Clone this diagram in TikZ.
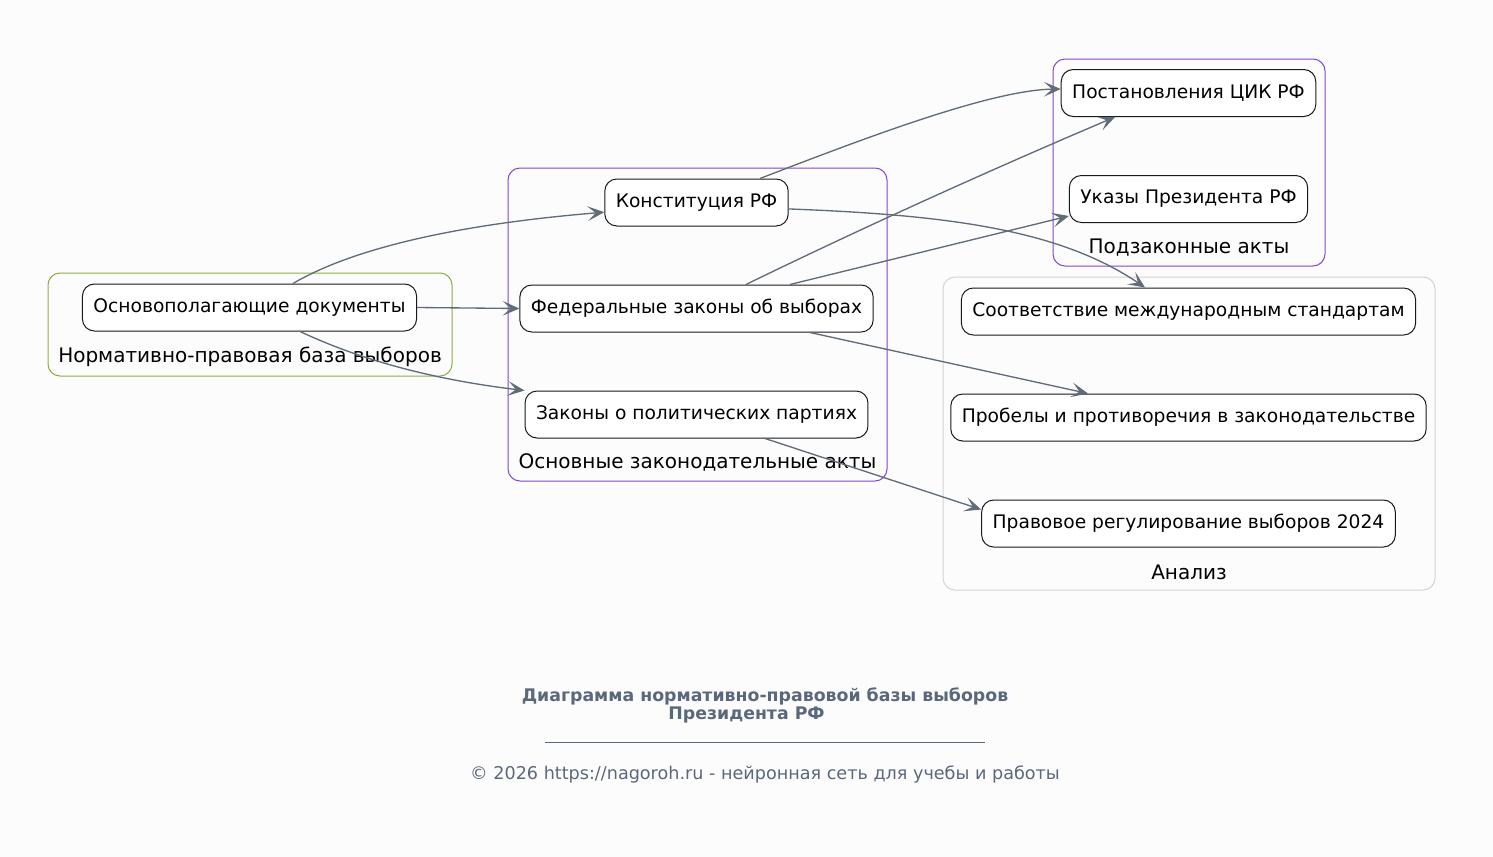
\documentclass[tikz,border=0pt]{standalone}
\usepackage{fontspec}
\setmainfont{DejaVu Sans}
\usetikzlibrary{arrows.meta,positioning}
\definecolor{bgpage}{RGB}{253,252,252}
\definecolor{linkgray}{RGB}{96,108,122}
\definecolor{grpgreen}{RGB}{138,174,70}
\definecolor{grppurple}{RGB}{130,70,210}
\definecolor{grpgray}{RGB}{212,212,212}
\definecolor{footgray}{RGB}{90,104,124}

\begin{document}
\begin{tikzpicture}[x=0.75pt,y=-0.75pt,node distance=43.5pt,
  box/.style={draw=black!90, line width=0.75pt, rounded corners=9pt, fill=white, font=\fontsize{14}{16}\selectfont, inner xsep=8.25pt, minimum height=35.25pt},
  grp/.style={line width=0.75pt, rounded corners=9pt},
  lbl/.style={font=\fontsize{15}{17}\selectfont},
  link/.style={draw=linkgray, line width=1pt, -{Stealth[length=12.5pt,width=11pt,inset=6pt]}}]
  \fill[bgpage] (0,0) rectangle (1493,857);
  \useasboundingbox (0,0) rectangle (1493,857);

  % clusters
  \draw[grp, draw=grpgreen] (48,273) rectangle (452,376);
  \draw[grp, draw=grppurple] (508,168) rectangle (887,481);
  \draw[grp, draw=grppurple] (1053,59) rectangle (1325,266);
  \draw[grp, draw=grpgray] (943,277) rectangle (1435,590);
  \node[lbl] (lblbase) at (250,357) {Нормативно-правовая база выборов};
  \node[lbl] (lblmain) at (697.5,462) {Основные законодательные акты};
  \node[lbl] (lblsub) at (1189,248) {Подзаконные акты};
  \node[lbl] (lblanal) at (1189,572) {Анализ};

  % nodes
  \node[box] (basis) at (249.5,307.5) {Основополагающие документы};
  \node[box] (konst) at (696.5,202.5) {Конституция РФ};
  \node[box, below=of konst] (fed) {Федеральные законы об выборах};
  \node[box, below=of fed] (parties) {Законы о политических партиях};
  \node[box] (ptk) at (1188.5,93) {Постановления ЦИК РФ};
  \node[box, below=of ptk] (ukaz) {Указы Президента РФ};
  \node[box] (intl) at (1188.5,311.5) {Соответствие международным стандартам};
  \node[box, below=of intl] (gaps) {Пробелы и противоречия в законодательстве};
  \node[box, below=of gaps] (reg) {Правовое регулирование выборов 2024};

  % links
  \draw[link] ([xshift=32.6pt]basis.north) .. controls (350,250) and (450,225) .. (konst.186);
  \draw[link] (basis.east) -- (fed.west);
  \draw[link] ([xshift=37.9pt]basis.south) .. controls (350,355) and (420,378) .. (parties.north west);
  \draw[link] ([xshift=47.6pt]konst.north) .. controls (860,140) and (990,90) .. ([yshift=3pt]ptk.west);
  \draw[link] (konst.-4) .. controls (950,215) and (1060,230) .. ([xshift=-32.6pt]intl.north);
  \draw[link] ([xshift=37.1pt]fed.north) .. controls (866,226) and (995,168) .. ([xshift=-55.1pt]ptk.south);
  \draw[link] ([xshift=70.1pt]fed.north) -- ([yshift=-12.75pt]ukaz.west);
  \draw[link] ([xshift=85.1pt]fed.south) -- ([xshift=-75.4pt]gaps.north);
  \draw[link] ([xshift=51.4pt]parties.south) -- ([yshift=10.5pt]reg.west);

  % footer
  \node[font=\bfseries\fontsize{13}{13.5}\selectfont, text=footgray, align=center] (title) at (765,705) {Диаграмма нормативно-правовой базы выборов\\Президента РФ\hspace*{27.75pt}};
  \draw[footgray, line width=0.6pt] (545,742) -- (985,742);
  \node[font=\fontsize{13.2}{15}\selectfont, text=footgray] (copy) at (765,774) {© 2026 https://nagoroh.ru - нейронная сеть для учебы и работы};
\end{tikzpicture}
\end{document}
